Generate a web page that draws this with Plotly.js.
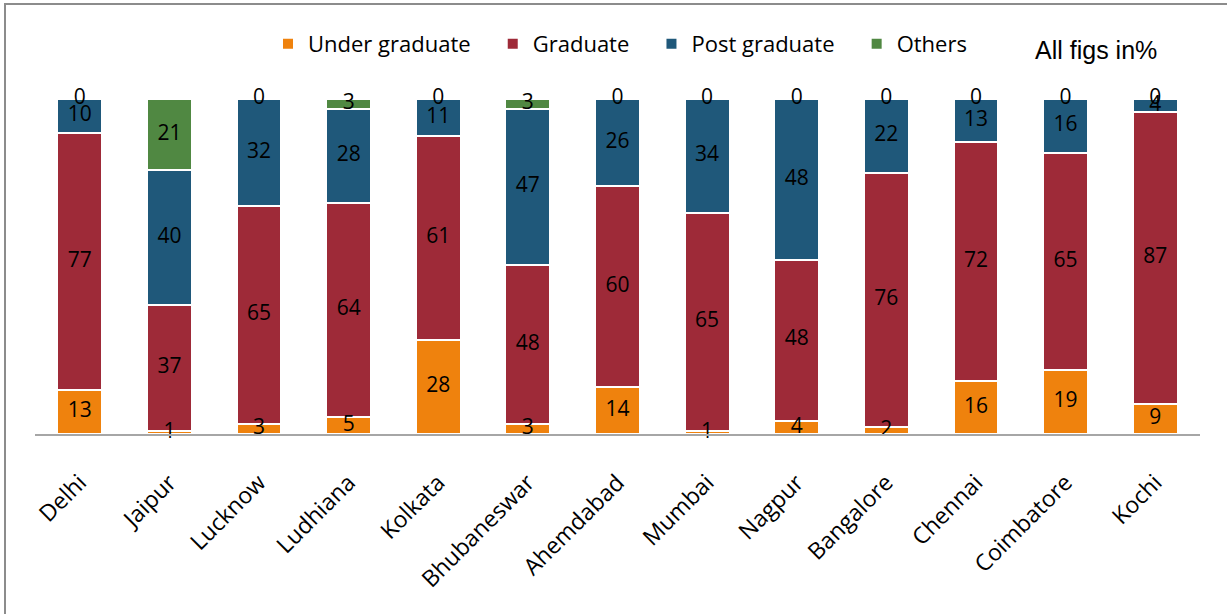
<!DOCTYPE html>
<html>
<head>
<meta charset="utf-8">
<script src="https://cdn.plot.ly/plotly-3.0.1.min.js"></script>
<style>
  body { margin: 0; background: #fff; overflow: hidden; }
  #chart { width: 1227px; height: 614px; }
  #frame { position: absolute; left: 4px; top: 3px; width: 1300px; height: 700px;
           border: 2px solid #8c8c8c; pointer-events: none; }
</style>
</head>
<body>
<div id="chart"></div>
<div id="frame"></div>
<script>
// cities and shares (percent)
const cities = ["Delhi", "Jaipur", "Lucknow", "Ludhiana", "Kolkata", "Bhubaneswar",
  "Ahemdabad", "Mumbai", "Nagpur", "Bangalore", "Chennai", "Coimbatore", "Kochi"];
const underGrad = [13, 1, 3, 5, 28, 3, 14, 1, 4, 2, 16, 19, 9];
const graduate  = [77, 37, 65, 64, 61, 48, 60, 65, 48, 76, 72, 65, 87];
const postGrad  = [10, 40, 32, 28, 11, 47, 26, 34, 48, 22, 13, 16, 4];
const others    = [0, 21, 0, 3, 0, 3, 0, 0, 0, 0, 0, 0, 0];

const seriesNames = ["Under graduate", "Graduate", "Post graduate", "Others"];
const seriesVals = [underGrad, graduate, postGrad, others];
const colors = ["#EF820D", "#9E2A38", "#1F587A", "#508842"];

const fam = "'Open Sans', 'Noto Sans', sans-serif";
const labelFont = {family: fam, size: 21, color: "#000"};

let traces = seriesVals.map((vals, k) => ({
  type: 'bar',
  // trailing nbsp widens the gap between legend entries
  name: seriesNames[k] + '\u00A0\u00A0\u00A0',
  x: cities,
  y: vals,
  marker: {color: colors[k], line: {color: '#fff', width: 2}},
  hoverinfo: 'x+y'
}));

// value labels, placed in the middle of each (normalised) segment
let lx = [], ly = [], lt = [];
cities.forEach((c, i) => {
  const total = seriesVals.reduce((s, v) => s + v[i], 0);
  let cum = 0;
  seriesVals.forEach(v => {
    lx.push(c);
    ly.push((cum + v[i] / 2) / total * 100);
    lt.push(String(v[i]));
    cum += v[i];
  });
});
traces.push({
  type: 'scatter', mode: 'text', x: lx, y: ly, text: lt,
  textfont: labelFont, showlegend: false, hoverinfo: 'skip', cliponaxis: false
});

const layout = {
  width: 1227, height: 614,
  margin: {l: 35, r: 27, t: 99, b: 180},
  barmode: 'stack',
  barnorm: 'percent',
  bargap: 0.5,
  paper_bgcolor: '#fff', plot_bgcolor: '#fff',
  font: labelFont,
  xaxis: {
    type: 'category',
    range: [-0.5, cities.length - 0.5],
    tickangle: -45,
    ticks: '',
    ticklabelstandoff: 24,
    tickfont: {family: fam, size: 23, color: '#000'},
    showline: true, linecolor: '#a6a6a6', linewidth: 2,
    showgrid: false, zeroline: false
  },
  yaxis: {range: [0, 100], visible: false, showgrid: false, zeroline: false},
  legend: {
    orientation: 'h', x: 0.2, xanchor: 'left', y: 1.164, yanchor: 'middle',
    font: {family: fam, size: 22, color: '#000'},
    traceorder: 'normal'
  },
  annotations: [{
    text: 'All figs in%', xref: 'paper', yref: 'paper', x: 0.911, y: 1.145,
    xanchor: 'center', yanchor: 'middle', showarrow: false,
    font: {family: "'Liberation Sans', Arial, sans-serif", size: 25, color: '#000'}
  }]
};

Plotly.newPlot('chart', traces, layout, {displayModeBar: false});
</script>
</body>
</html>
